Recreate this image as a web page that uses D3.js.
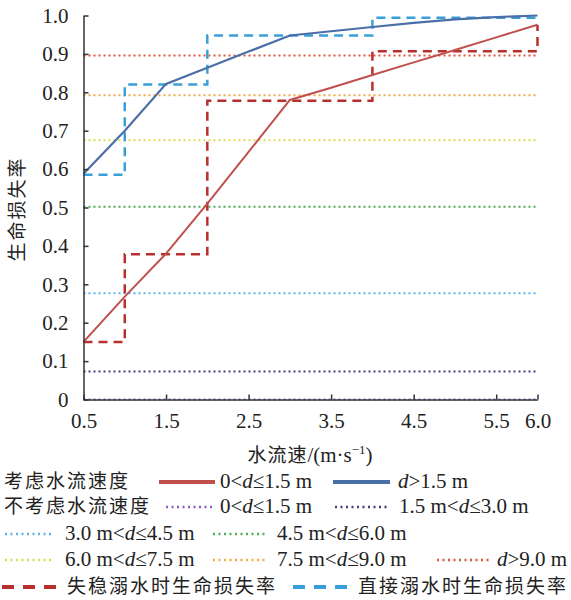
<!DOCTYPE html>
<html><head><meta charset="utf-8">
<script src="https://cdn.jsdelivr.net/npm/d3@7"></script>
<style>body{margin:0;background:#fff}</style>
</head><body><svg id="c" width="571" height="600"></svg>
<script>
// ---- data ----
const xTicks = [0.5, 1.5, 2.5, 3.5, 4.5, 5.5, 6.0];
const yTicks = [0, 0.1, 0.2, 0.3, 0.4, 0.5, 0.6, 0.7, 0.8, 0.9, 1.0];
const velocity = [0.5, 1.0, 1.5, 2.0, 2.5, 3.0, 3.5, 4.0, 4.5, 5.0, 5.5, 6.0];
const lossShallow = [0.15, 0.268, 0.38, 0.51, 0.645, 0.78, 0.812, 0.845, 0.878, 0.91, 0.943, 0.976];
const lossDeep = [0.588, 0.70, 0.822, 0.864, 0.906, 0.948, 0.959, 0.970, 0.981, 0.990, 0.996, 1.0];
const stepX = [0.5, 1.0, 2.0, 4.0, 6.0];
const instabilityLoss = [0.15, 0.378, 0.778, 0.907, 0.975];
const directLoss = [0.585, 0.82, 0.948, 0.994, 1.0];
const constLabels = ["0<d≤1.5 m", "1.5 m<d≤3.0 m", "3.0 m<d≤4.5 m", "4.5 m<d≤6.0 m", "6.0 m<d≤7.5 m", "7.5 m<d≤9.0 m", "d>9.0 m"];
const constValues = [0.0, 0.073, 0.277, 0.502, 0.675, 0.792, 0.896];
const constColors = ["#8a5cc4", "#463c78", "#5db3e3", "#4fae55", "#d9dc4e", "#f2a848", "#e4553e"];

const svg = d3.select("#c");
const x = d3.scaleLinear().domain([0.5, 6]).range([83.5, 537.5]);
const y = d3.scaleLinear().domain([0, 1]).range([399.5, 15.5]);
const serif = "'Liberation Serif', 'Times New Roman', serif";
const cjk = "'Noto Sans CJK SC', sans-serif";

// constant dotted lines
constValues.forEach((v, i) => {
  svg.append("line").attr("x1", x(0.5)).attr("x2", x(6)).attr("y1", y(v)).attr("y2", y(v))
    .attr("stroke", constColors[i]).attr("stroke-width", 2).attr("stroke-dasharray", "2,3");
});

const line = d3.line().x(d => x(d[0])).y(d => y(d[1]));
const step = d3.line().x(d => x(d[0])).y(d => y(d[1])).curve(d3.curveStepAfter);

svg.append("path").datum(stepX.map((v, i) => [v, instabilityLoss[i]])).attr("d", step)
  .attr("fill", "none").attr("stroke", "#b8302c").attr("stroke-width", 2.5).attr("stroke-dasharray", "9,6");
svg.append("path").datum(stepX.map((v, i) => [v, directLoss[i]])).attr("d", step)
  .attr("fill", "none").attr("stroke", "#3a9fd8").attr("stroke-width", 2.5).attr("stroke-dasharray", "9,6");
svg.append("path").datum(velocity.map((v, i) => [v, lossShallow[i]])).attr("d", line)
  .attr("fill", "none").attr("stroke", "#c0504d").attr("stroke-width", 2);
svg.append("path").datum(velocity.map((v, i) => [v, lossDeep[i]])).attr("d", line)
  .attr("fill", "none").attr("stroke", "#4a6fa8").attr("stroke-width", 2.2);

// axes
const xa = svg.append("g").attr("transform", `translate(0,${y(0)})`)
  .call(d3.axisBottom(x).tickValues(xTicks).tickFormat(d3.format(".1f")).tickSizeInner(-5).tickSizeOuter(0).tickPadding(14));
const ya = svg.append("g").attr("transform", `translate(${x(0.5)},0)`)
  .call(d3.axisLeft(y).tickValues(yTicks).tickFormat(d => d === 0 ? "0" : d3.format(".1f")(d)).tickSizeInner(-5).tickSizeOuter(0).tickPadding(15));
[xa, ya].forEach(g => {
  g.attr("font-family", null).attr("font-size", null);
  g.selectAll("path,line").attr("stroke", "#333").attr("stroke-width", 1.5);
  g.selectAll("text").style("font-family", serif).style("font-size", "21px").attr("fill", "#222");
});

// axis titles
const xt = svg.append("text").attr("x", 310).attr("y", 462).attr("text-anchor", "middle").attr("fill", "#222");
xt.append("tspan").style("font-family", cjk).style("font-size", "19px").style("letter-spacing", "1px").text("水流速");
xt.append("tspan").style("font-family", serif).style("font-size", "21px").text("/(m·s");
xt.append("tspan").style("font-family", serif).style("font-size", "13px").attr("dy", -8).text("−1");
xt.append("tspan").style("font-family", serif).style("font-size", "21px").attr("dy", 8).text(")");
svg.append("text").attr("transform", "translate(24,209) rotate(-90)").attr("text-anchor", "middle")
  .style("font-family", cjk).style("font-size", "19px").style("letter-spacing", "2px").attr("fill", "#222").text("生命损失率");

// legend
function latinLabel(g, xx, yy, s) {
  const t = g.append("text").attr("x", xx).attr("y", yy).style("font-family", serif).style("font-size", "21px").attr("fill", "#222");
  const parts = s.split("d");
  parts.forEach((p, i) => {
    if (i > 0) t.append("tspan").style("font-style", "italic").text("d");
    if (p) t.append("tspan").text(p);
  });
}
function cjkLabel(g, xx, yy, s) {
  g.append("text").attr("x", xx).attr("y", yy).style("font-family", cjk).style("font-size", "19px")
    .style("letter-spacing", "2px").attr("fill", "#222").text(s);
}
function sample(g, x1, x2, yy, color, kind) {
  const l = g.append("line").attr("x1", x1).attr("x2", x2).attr("y1", yy).attr("y2", yy).attr("stroke", color);
  if (kind === "solid") l.attr("stroke-width", 4);
  else if (kind === "dot") l.attr("stroke-width", 2.5).attr("stroke-dasharray", "2,3.5");
  else l.attr("stroke-width", 4).attr("stroke-dasharray", "12,9");
}
const lg = svg.append("g");
const rows = [488, 513, 540, 566, 593];
cjkLabel(lg, 4, rows[0], "考虑水流速度");
sample(lg, 159, 215, rows[0] - 6, "#c0504d", "solid");
latinLabel(lg, 220, rows[0], "0<d≤1.5 m");
sample(lg, 333, 390, rows[0] - 6, "#4a6fa8", "solid");
latinLabel(lg, 398, rows[0], "d>1.5 m");

cjkLabel(lg, 4, rows[1], "不考虑水流速度");
sample(lg, 166, 214, rows[1] - 6, constColors[0], "dot");
latinLabel(lg, 220, rows[1], constLabels[0]);
sample(lg, 335, 389, rows[1] - 6, constColors[1], "dot");
latinLabel(lg, 399, rows[1], constLabels[1]);

sample(lg, 5, 53, rows[2] - 6, constColors[2], "dot");
latinLabel(lg, 65, rows[2], constLabels[2]);
sample(lg, 213, 268, rows[2] - 6, constColors[3], "dot");
latinLabel(lg, 277, rows[2], constLabels[3]);

sample(lg, 5, 53, rows[3] - 6, constColors[4], "dot");
latinLabel(lg, 65, rows[3], constLabels[4]);
sample(lg, 213, 268, rows[3] - 6, constColors[5], "dot");
latinLabel(lg, 277, rows[3], constLabels[5]);
sample(lg, 437, 489, rows[3] - 6, constColors[6], "dot");
latinLabel(lg, 497, rows[3], constLabels[6]);

sample(lg, 2, 58, rows[4] - 6, "#b8302c", "dash");
cjkLabel(lg, 67, rows[4], "失稳溺水时生命损失率");
sample(lg, 293, 349, rows[4] - 6, "#3a9fd8", "dash");
cjkLabel(lg, 358, rows[4], "直接溺水时生命损失率");
</script></body></html>
